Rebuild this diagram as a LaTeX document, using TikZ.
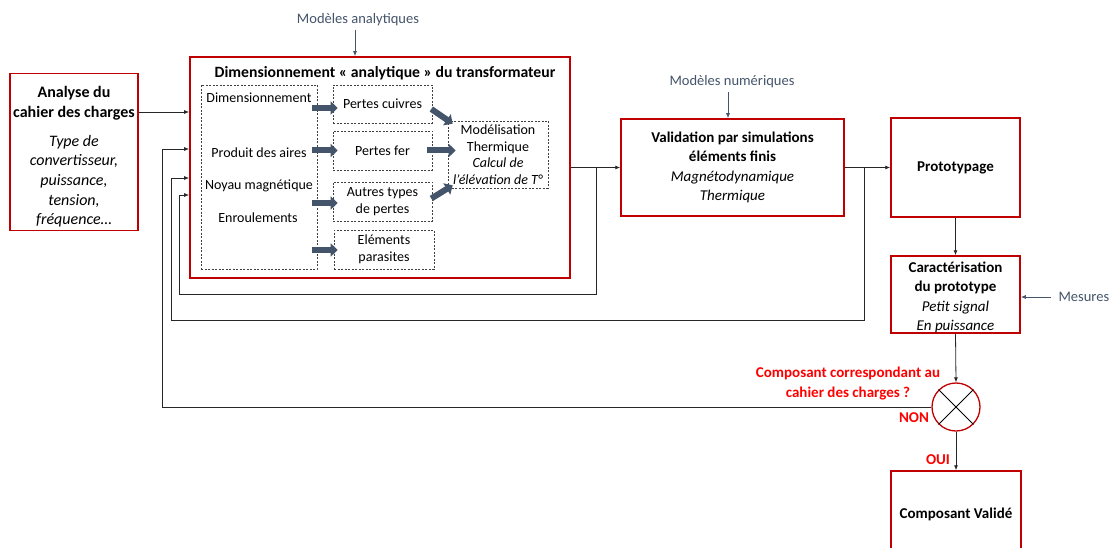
\documentclass[tikz,border=0pt]{standalone}
\usepackage{fontspec}
\setmainfont{Carlito}
\usetikzlibrary{arrows.meta,calc,positioning}
\definecolor{boxred}{HTML}{C00000}
\definecolor{slate}{HTML}{44546A}
\definecolor{qred}{HTML}{FF0000}
\tikzset{
  redbox/.style={draw=boxred, line width=1.5pt, fill=white, align=center, inner sep=2pt},
  dashbox/.style={draw=black!75, dash pattern=on 2pt off 1.5pt, line width=0.6pt, align=center, inner sep=1pt},
  fb/.style={draw=black!85, line width=0.8pt, -{Latex[length=5pt,width=4pt]}},
  hintarrow/.style={draw=slate, line width=0.8pt, -{Latex[length=5pt,width=4pt]}},
  blk/.style={draw=slate, line width=6pt, -{Triangle[length=7pt,width=13pt]}},
  hint/.style={text=slate, font=\fontsize{14.5}{17}\selectfont},
  big/.style={font=\fontsize{15}{19.5}\selectfont, align=center},
  small/.style={font=\fontsize{14}{16.5}\selectfont},
  qtext/.style={text=qred, font=\bfseries\fontsize{15}{19.5}\selectfont, align=center}
}
\begin{document}
\begin{tikzpicture}[x=1pt,y=-1pt]
  \clip (0,0) rectangle (1113,548);

  % main blocks
  \node[redbox, minimum width=128, minimum height=157] (analyse) at (74,152) {};
  \node[big, font=\fontsize{16}{19.7}\selectfont] (analysetxt) at (74,157)
    {\textbf{Analyse du}\\\textbf{cahier des charges}\\[9pt]\textit{Type de}\\\textit{convertisseur,}\\\textit{puissance,}\\\textit{tension,}\\\textit{fréquence…}};
  \node[redbox, line width=1.7pt, minimum width=380, minimum height=221] (dim) at (380,167.5) {};
  \node[font=\bfseries\fontsize{15.7}{18}\selectfont] (dimtitle) at (385,73) {Dimensionnement « analytique » du transformateur};
  \node[redbox, big, minimum width=223, minimum height=97] (valid) at (732.5,167.5)
    {\textbf{Validation par simulations}\\\textbf{éléments finis}\\\textit{Magnétodynamique}\\\textit{Thermique}};
  \node[redbox, big, minimum width=129, minimum height=99] (proto) at (955.5,167.5) {\textbf{Prototypage}};
  \node[redbox, minimum width=129, minimum height=77] (carac) at (955.5,294.5) {};
  \node[big] (caractxt) at (955.5,297.5)
    {\textbf{Caractérisation}\\\textbf{du prototype}\\\textit{Petit signal}\\\textit{En puissance}};
  \node[circle, draw=boxred, line width=1.3pt, minimum size=48] (chk) at (956,407) {};
  \node[redbox, big, minimum width=130, minimum height=86] (valide) at (956,514) {\textbf{Composant Validé}};

  % inside the analytic block
  \node[dashbox, minimum width=116, minimum height=184] (dimleft) at (259,177) {};
  \node[small] (tdim) at (259,98) {Dimensionnement};
  \node[small] (tprod) at (259,153) {Produit des aires};
  \node[small] (tnoyau) at (259,186) {Noyau magnétique};
  \node[small] (tenroul) at (258,218) {Enroulements};
  \node[dashbox, small, minimum width=99, minimum height=38] (cuivres) at (382.5,104) {Pertes cuivres};
  \node[dashbox, small, minimum width=99, minimum height=39] (fer) at (382.5,150.5) {Pertes fer};
  \node[dashbox, small, minimum width=99, minimum height=39] (autres) at (382.5,201.5) {Autres types\\de pertes};
  \node[dashbox, small, minimum width=100, minimum height=39] (parasites) at (384,249.5) {Eléments\\parasites};
  \node[dashbox, small, minimum width=100, minimum height=67] (thermo) at (498,154.5)
    {Modélisation\\Thermique\\\textit{Calcul de}\\\textit{l’élévation de T°}};

  % thick arrows
  \draw[blk] ($(dimleft.east |- 0,108)+(-5,0)$) -- ($(cuivres.west |- 0,108)+(5,0)$);
  \draw[blk] ($(dimleft.east |- fer)+(-5,0)$) -- ($(fer.west)+(5,0)$);
  \draw[blk] ($(dimleft.east |- 0,203)+(-5,0)$) -- ($(autres.west |- 0,203)+(5,0)$);
  \draw[blk] ($(dimleft.east |- 0,250)+(-5,0)$) -- ($(parasites.west |- 0,250)+(4,0)$);
  \draw[blk] ($(cuivres.east)+(-1,5)$) -- ($(thermo.north west)+(5,3)$);
  \draw[blk] ($(fer.east)+(-5,0)$) -- ($(thermo.west |- fer)+(8,0)$);
  \draw[blk] ($(autres.east)+(-1,-3)$) -- ($(thermo.south west)+(5,-3)$);

  % hints
  \node[hint] (modan) at (358,20) {Modèles analytiques};
  \node[hint] (modnum) at (732,82) {Modèles numériques};
  \node[hint, anchor=west] (mes) at (1055,297) {Mesures};
  \coordinate (ma) at (355,0);
  \coordinate (mn) at (728,0);
  \draw[hintarrow] (ma |- modan.south) -- (ma |- dim.north);
  \draw[hintarrow] (mn |- modnum.south) -- (mn |- valid.north);
  \draw[hintarrow] ($(mes.west)+(-4,0)$) -- (carac.east |- mes.west);

  % forward flow
  \draw[fb] (analyse.east |- 0,112) -- (dim.west |- 0,112);
  \draw[fb] (dim.east |- valid.west) -- (valid.west);
  \draw[fb] (valid.east) -- (proto.west);
  \draw[fb] (proto.south) -- (carac.north);
  \draw[fb] (carac.south) -- (chk.north);
  \draw[fb] (chk.south) -- (valide.north);
  \draw[line width=0.8pt] (chk.north west) -- (chk.south east) (chk.north east) -- (chk.south west);

  % feedback loops
  \coordinate (fb1) at (596,294);
  \coordinate (fb2) at (864,320);
  \draw[fb] (valid.west -| fb1) -- (fb1) -| (179,195) -- (dim.west |- 0,195);
  \draw[fb] (proto.west -| fb2) -- (fb2) -| (171,178) -- (dim.west |- 0,178);
  \draw[fb] (chk.west) -| (162,149) -- (dim.west |- 0,149);

  % decision labels
  \node[qtext] (quest) at (848,383.5) {Composant correspondant au\\cahier des charges~?};
  \node[qtext] (non) at (914,418) {NON};
  \node[qtext] (oui) at (938,460) {OUI};
\end{tikzpicture}
\end{document}
